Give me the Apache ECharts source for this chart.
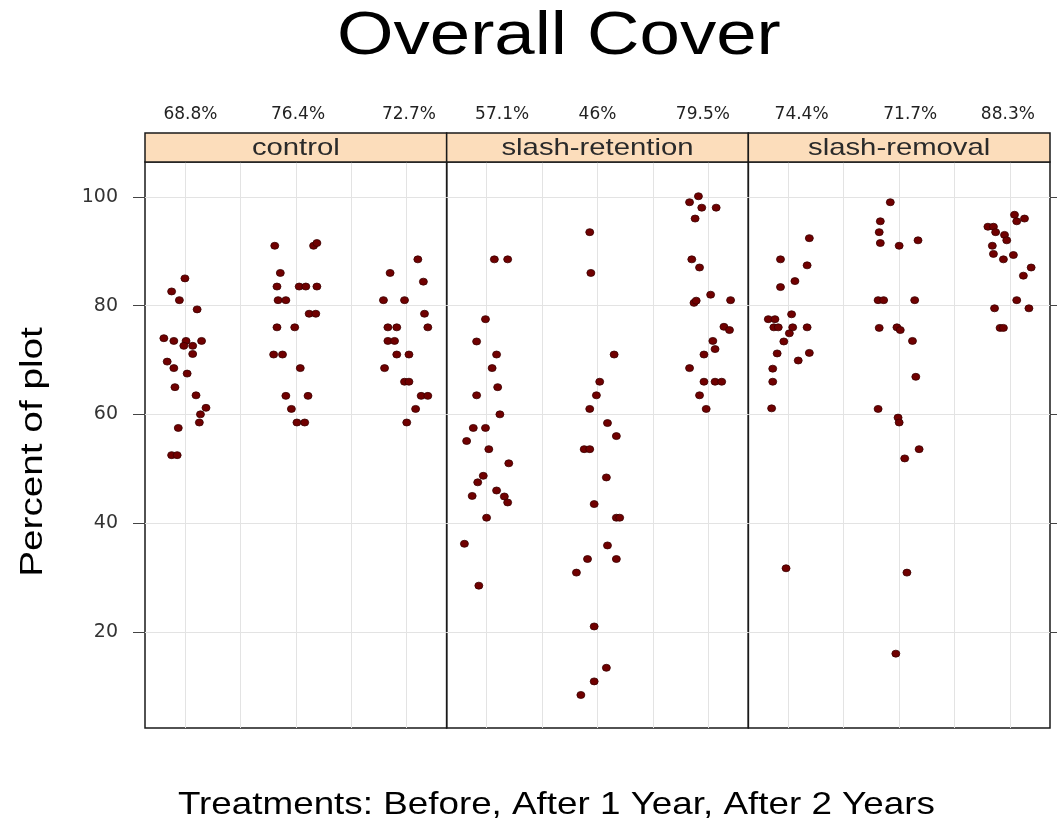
<!DOCTYPE html>
<html><head><meta charset="utf-8">
<script src="https://cdn.jsdelivr.net/npm/echarts@6/dist/echarts.min.js"></script>
<style>html,body{margin:0;padding:0;background:#fff}#c{width:1057px;height:829px}</style>
</head><body><div id="c"></div><script>
// ---- data ----
const panels = ['control', 'slash-retention', 'slash-removal'];
const groups = ['Before', 'After 1 Year', 'After 2 Years'];
const pctLabels = [['68.8%', '76.4%', '72.7%'], ['57.1%', '46%', '79.5%'], ['74.4%', '71.7%', '88.3%']];
const yTicks = [20, 40, 60, 80, 100];
const xGrid = [1, 1.5, 2, 2.5, 3];
const titleText = 'Overall Cover';
const xTitleText = 'Treatments: Before, After 1 Year, After 2 Years';
const yTitleText = 'Percent of plot';

// control
const controlBeforeVal = [85.0, 82.6, 81.0, 79.3, 74.0, 73.5, 73.5, 72.6, 72.6, 73.5, 71.1, 69.7, 68.5, 67.5, 65.0, 63.5, 61.2, 60.0, 58.5, 57.5, 52.5, 52.5];
const controlBeforeJit = [0.00, -0.12, -0.05, 0.11, -0.19, -0.10, 0.01, -0.01, 0.07, 0.15, 0.07, -0.16, -0.10, 0.02, -0.09, 0.10, 0.19, 0.14, 0.13, -0.06, -0.12, -0.07];
const controlY1Val = [91.0, 91.0, 91.5, 86.0, 83.5, 83.5, 83.5, 83.5, 81.0, 81.0, 78.5, 78.5, 76.0, 76.0, 71.0, 71.0, 68.5, 63.4, 63.4, 61.0, 58.5, 58.5];
const controlY1Jit = [-0.19, 0.16, 0.19, -0.14, -0.17, 0.03, 0.09, 0.19, -0.16, -0.09, 0.12, 0.18, -0.17, -0.01, -0.20, -0.12, 0.04, -0.09, 0.11, -0.04, 0.01, 0.08];
const controlY2Val = [88.5, 86.0, 84.4, 81.0, 81.0, 78.5, 76.0, 76.0, 76.0, 73.5, 73.5, 71.0, 71.0, 68.5, 66.0, 66.0, 63.4, 63.4, 61.0, 58.5];
const controlY2Jit = [0.10, -0.15, 0.15, -0.21, -0.02, 0.16, -0.17, -0.09, 0.19, -0.17, -0.11, -0.09, 0.02, -0.20, -0.02, 0.02, 0.13, 0.19, 0.08, 0.00];

// slash-retention
const retentionBeforeVal = [88.5, 88.5, 77.5, 73.4, 71.0, 68.5, 65.0, 63.5, 60.0, 57.5, 57.5, 55.1, 53.6, 51.0, 48.7, 47.5, 46.0, 45.0, 44.9, 43.8, 41.0, 36.2, 28.5];
const retentionBeforeJit = [0.07, 0.19, -0.01, -0.09, 0.09, 0.05, 0.10, -0.09, 0.12, -0.12, -0.01, -0.18, 0.02, 0.20, -0.03, -0.08, 0.09, -0.13, 0.16, 0.19, 0.00, -0.20, -0.07];
const retentionY1Val = [93.5, 86.0, 71.0, 66.0, 63.5, 61.0, 58.4, 56.0, 53.6, 53.6, 48.4, 43.5, 41.0, 41.0, 35.9, 33.4, 33.4, 30.9, 21.0, 13.4, 10.9, 8.4];
const retentionY1Jit = [-0.07, -0.06, 0.15, 0.02, -0.01, -0.07, 0.09, 0.17, -0.12, -0.07, 0.08, -0.03, 0.17, 0.20, 0.09, -0.09, 0.17, -0.19, -0.03, 0.08, -0.03, -0.15];
const retentionY2Val = [100.1, 99.0, 98.0, 98.0, 96.0, 88.5, 87.0, 82.0, 81.0, 80.5, 80.9, 76.1, 75.5, 73.5, 72.0, 71.0, 68.5, 66.0, 66.0, 66.0, 63.5, 61.0];
const retentionY2Jit = [-0.09, -0.17, -0.06, 0.07, -0.12, -0.15, -0.08, 0.02, 0.20, -0.13, -0.11, 0.14, 0.19, 0.04, 0.06, -0.04, -0.17, -0.04, 0.06, 0.12, -0.08, -0.02];

// slash-removal
const removalBeforeVal = [92.4, 88.5, 87.4, 84.5, 83.4, 78.4, 77.5, 77.5, 76.0, 76.0, 76.0, 76.0, 74.9, 73.4, 71.2, 71.3, 69.9, 68.4, 66.0, 61.1, 31.7];
const removalBeforeJit = [0.19, -0.07, 0.17, 0.06, -0.07, 0.03, -0.18, -0.12, -0.13, -0.09, 0.04, 0.17, 0.01, -0.04, -0.10, 0.19, 0.09, -0.14, -0.14, -0.15, -0.02];
const removalY1Val = [99.0, 95.5, 93.5, 91.5, 91.0, 92.0, 81.0, 81.0, 81.0, 75.9, 76.0, 75.5, 73.5, 66.9, 61.0, 59.4, 58.5, 53.6, 51.9, 30.9, 16.0];
const removalY1Jit = [-0.08, -0.17, -0.18, -0.17, 0.00, 0.17, -0.19, -0.14, 0.14, -0.18, -0.02, 0.01, 0.12, 0.15, -0.19, -0.01, 0.00, 0.18, 0.05, 0.07, -0.03];
const removalY2Val = [96.7, 96.0, 95.5, 94.5, 94.5, 93.5, 93.0, 92.0, 91.0, 89.5, 89.3, 88.5, 87.0, 85.5, 81.0, 79.5, 79.5, 75.9, 75.9];
const removalY2Jit = [0.04, 0.13, 0.06, -0.20, -0.15, -0.13, -0.05, -0.03, -0.16, -0.15, 0.03, -0.06, 0.19, 0.12, 0.06, -0.14, 0.17, -0.09, -0.06];

const panelData = [
  [[controlBeforeVal, controlBeforeJit], [controlY1Val, controlY1Jit], [controlY2Val, controlY2Jit]],
  [[retentionBeforeVal, retentionBeforeJit], [retentionY1Val, retentionY1Jit], [retentionY2Val, retentionY2Jit]],
  [[removalBeforeVal, removalBeforeJit], [removalY1Val, removalY1Jit], [removalY2Val, removalY2Jit]]
];

// ---- layout ----
const FONT = 'Liberation Sans, Arial, Helvetica, sans-serif';
const WIDE = 'DejaVu Sans, Verdana, sans-serif';
const gridLeft = 145, gridRight = 1050, gridTop = 162, gridBottom = 728;
const pw = (gridRight - gridLeft) / 3;
const xMin = 0.64, xMax = 3.36, yMin = 2.33, yMax = 106.4;
const gridColor = '#e3e3e3';
// small horizontal nudges of the percent labels (layout only)
const pctNudge = [[0.05, 0.02, 0.02], [0.14, 0.0, -0.05], [0.12, 0.10, -0.02]];

const grids = [], xAxes = [], yAxes = [], series = [], graphics = [];
panels.forEach((name, i) => {
  const left = gridLeft + i * pw;
  grids.push({ left: left, top: gridTop, width: pw, height: gridBottom - gridTop, show: true, borderColor: '#1a1a1a', borderWidth: 1.5, backgroundColor: 'transparent' });
  xAxes.push({
    gridIndex: i, type: 'value', min: xMin, max: xMax,
    axisLine: { show: false }, axisLabel: { show: false },
    axisTick: { show: false, customValues: xGrid },
    splitLine: { show: true, lineStyle: { color: gridColor, width: 1 } }
  });
  yAxes.push({
    gridIndex: i, type: 'value', min: yMin, max: yMax,
    axisLine: { show: false },
    axisTick: { show: i === 0, customValues: yTicks, length: 12, lineStyle: { color: '#444' } },
    axisLabel: { show: i === 0, customValues: yTicks, fontSize: 19, color: '#333', margin: 27, fontFamily: WIDE },
    splitLine: { show: true, lineStyle: { color: gridColor, width: 1 } }
  });
  graphics.push({
    type: 'rect', shape: { x: left, y: 133, width: pw, height: 29 },
    style: { fill: '#FCDDBB', stroke: '#1a1a1a', lineWidth: 1.5 }, z: 10
  });
  graphics.push({
    type: 'text', x: left + pw / 2, y: 148, scaleX: 1.22,
    style: { text: name, fontSize: 24, fill: '#2a2a2a', fontFamily: FONT, textAlign: 'center', textVerticalAlign: 'middle' }, z: 11
  });
});
// top label axes (percent summaries)
panels.forEach((name, i) => {
  const pos = [1, 2, 3].map((g, k) => g + pctNudge[i][k]);
  xAxes.push({
    gridIndex: i, type: 'value', min: xMin, max: xMax, position: 'top', offset: 30,
    axisLine: { show: false }, axisTick: { show: false }, splitLine: { show: false },
    axisLabel: { show: true, customValues: pos, fontSize: 17, color: '#222', margin: 9, fontFamily: WIDE,
      formatter: v => {
        let best = 0;
        pos.forEach((p, k) => { if (Math.abs(p - v) < Math.abs(pos[best] - v)) best = k; });
        return pctLabels[i][best];
      } }
  });
});
// right-side ticks on last panel
yAxes.push({
  gridIndex: 2, type: 'value', min: yMin, max: yMax, position: 'right',
  axisLine: { show: false }, axisLabel: { show: false }, splitLine: { show: false },
  axisTick: { show: true, customValues: yTicks, length: 8, lineStyle: { color: '#444' } }
});

panelData.forEach((grp, i) => {
  grp.forEach(([vals, jit], g) => {
    series.push({
      type: 'scatter', name: panels[i] + ' - ' + groups[g], xAxisIndex: i, yAxisIndex: i,
      symbol: 'circle', symbolSize: [8, 7],
      itemStyle: { color: '#700000', borderColor: '#3a0000', borderWidth: 0.8, opacity: 1 },
      data: vals.map((v, k) => [g + 1 + jit[k], v]),
      z: 5
    });
  });
});

// titles (text stretched horizontally like the reference rendering)
graphics.push({
  type: 'text', x: 337, y: 37, scaleX: 1.19,
  style: { text: titleText, fontSize: 61, fill: '#000', fontFamily: FONT, textAlign: 'left', textVerticalAlign: 'middle' }
});
graphics.push({
  type: 'text', x: 178, y: 805, scaleX: 1.15,
  style: { text: xTitleText, fontSize: 32, fill: '#000', fontFamily: FONT, textAlign: 'left', textVerticalAlign: 'middle' }
});
graphics.push({
  type: 'text', x: 33, y: 452, rotation: Math.PI / 2, scaleX: 1.21,
  style: { text: yTitleText, fontSize: 32, fill: '#000', fontFamily: FONT, textAlign: 'center', textVerticalAlign: 'middle' }
});

const chart = echarts.init(document.getElementById('c'), null, { renderer: 'canvas' });
chart.setOption({
  backgroundColor: '#fff',
  animation: false,
  grid: grids, xAxis: xAxes, yAxis: yAxes, series: series, graphic: graphics
});
</script></body></html>
